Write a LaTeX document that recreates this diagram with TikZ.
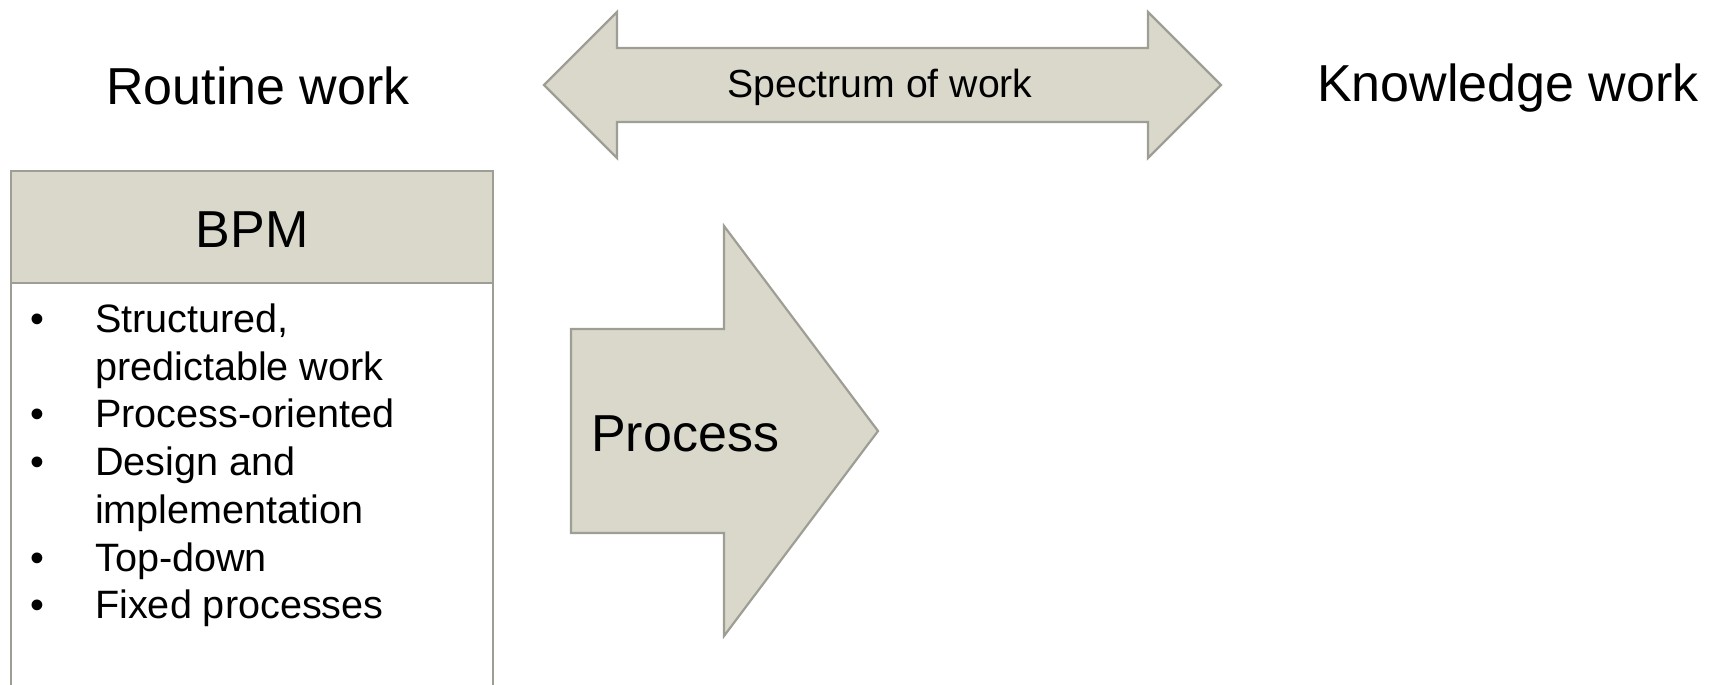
\documentclass[tikz,border=0pt]{standalone}
\usepackage{fontspec}
\setmainfont{Liberation Sans}
\definecolor{shapefill}{RGB}{217,216,203}
\definecolor{shapeline}{RGB}{158,158,148}
\begin{document}
\begin{tikzpicture}[x=1pt,y=-1pt,
  graybox/.style={fill=shapefill,draw=shapeline,line width=2.2pt,line join=miter},
  big/.style={inner sep=0pt,font=\fontsize{52}{60}\selectfont},
  mid/.style={inner sep=0pt,font=\fontsize{39.6}{47}\selectfont},
  small/.style={inner sep=0pt,font=\fontsize{39.2}{47}\selectfont}]
\useasboundingbox (0,0) rectangle (1711,685);
\clip (0,0) rectangle (1711,685);
% BPM box
\draw[fill=white,draw=shapeline,line width=2.2pt] (11,283) rectangle (493,700);
\draw[graybox] (11,171) rectangle (493,283);
\node[big,anchor=base] (bpm) at (252,247) {BPM};
% bullets
\foreach \yy/\nm in {332/b1,427.5/b2,475/b3,571/b4,618.5/b5}
  \node[mid,anchor=base] (\nm) at (37,\yy) {\textbullet};
\node[mid,anchor=base west] (l1) at (95,332) {Structured,};
\node[mid,anchor=base west] (l2) at (95,380) {predictable work};
\node[mid,anchor=base west] (l3) at (95,427.5) {Process-oriented};
\node[mid,anchor=base west] (l4) at (95,475) {Design and};
\node[mid,anchor=base west] (l5) at (95,523) {implementation};
\node[mid,anchor=base west] (l6) at (95,571) {Top-down};
\node[mid,anchor=base west] (l7) at (95,618.5) {Fixed processes};
% spectrum double arrow
\draw[graybox] (544,85) -- (617,12) -- (617,48) -- (1148,48) -- (1148,12) -- (1221,85)
  -- (1148,158) -- (1148,122) -- (617,122) -- (617,158) -- cycle;
\node[small,anchor=base] (spec) at (880,97) {Spectrum of work};
% process arrow
\draw[graybox] (571,329) -- (724,329) -- (724,226) -- (878,431) -- (724,636)
  -- (724,533) -- (571,533) -- cycle;
\node[big,anchor=base west] (proc) at (591,451) {Process};
% side labels
\node[big,anchor=base west] (routine) at (106,104) {Routine work};
\node[big,anchor=base west] (know) at (1317,102) {Knowledge work};
\end{tikzpicture}
\end{document}
